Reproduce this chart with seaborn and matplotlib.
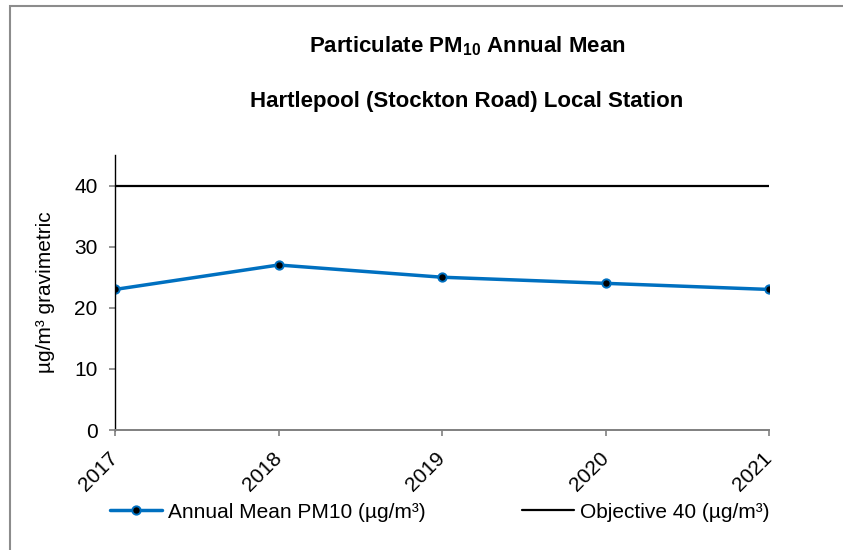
import matplotlib
matplotlib.use("Agg")
import matplotlib.pyplot as plt
import seaborn as sns
import pandas as pd
from matplotlib.patches import Rectangle
from matplotlib.lines import Line2D

years = ["2017", "2018", "2019", "2020", "2021"]
annual_mean = [23, 27, 25, 24, 23]
objective = [40, 40, 40, 40, 40]
y_ticks = [0, 10, 20, 30, 40]
series_labels = ["Annual Mean PM10 (µg/m³)", "Objective 40 (µg/m³)"]

sns.set_theme(style="white")
plt.rcParams["font.family"] = ["Liberation Sans", "DejaVu Sans"]
plt.rcParams["mathtext.fontset"] = "custom"
plt.rcParams["mathtext.rm"] = "Liberation Sans"
plt.rcParams["mathtext.bf"] = "Liberation Sans:bold"
for key in ["text.color", "axes.labelcolor", "xtick.labelcolor", "ytick.labelcolor"]:
    plt.rcParams[key] = "black"

df = pd.DataFrame({"Year": years, "Annual Mean": annual_mean, "Objective": objective})
df["x"] = range(len(years))

W, H = 843, 550
fig = plt.figure(figsize=(W / 100, H / 100), dpi=100)
ax = fig.add_axes([115 / W, 1 - 430 / H, (769 - 115) / W, (430 - 155) / H])

blue = "#0070C0"
line_kw = dict(color=blue, linewidth=2.5, marker="o", markersize=6,
               markerfacecolor="black", markeredgecolor=blue, markeredgewidth=1.4)
sns.lineplot(data=df, x="x", y="Objective", ax=ax, color="black", linewidth=1.6)
sns.lineplot(data=df, x="x", y="Annual Mean", ax=ax, **line_kw)

ax.set_xlim(0, len(years) - 1)
ax.set_ylim(0, 45)
ax.set_yticks(y_ticks)
ax.set_yticklabels([str(v) for v in y_ticks], fontsize=15)
ax.set_xticks(df["x"])
ax.set_xticklabels(years, rotation=45, ha="right", va="center",
                   rotation_mode="anchor", fontsize=15)
ax.set_xlabel("")
ax.set_ylabel("µg/m³ gravimetric", fontsize=15, labelpad=14)

for side in ["top", "right"]:
    ax.spines[side].set_visible(False)
ax.spines["left"].set_color("black")
ax.spines["left"].set_linewidth(1)
ax.spines["bottom"].set_color("#808080")
ax.spines["bottom"].set_linewidth(1.4)
ax.tick_params(axis="both", which="both", length=4.5, width=1.2, color="#808080",
               labelcolor="black", direction="out", bottom=True, left=True)
ax.tick_params(axis="y", pad=8)
ax.tick_params(axis="x", pad=14)

title_x = 467 / W
fig.text(title_x, 1 - 52 / H, r"Particulate PM$_{\mathbf{10}}$ Annual Mean", ha="center",
         va="baseline", fontsize=16, fontweight="bold")
fig.text(title_x, 1 - 107 / H, "Hartlepool (Stockton Road) Local Station", ha="center",
         va="baseline", fontsize=16, fontweight="bold")

handles = [Line2D([], [], **line_kw), Line2D([], [], color="black", linewidth=1.6)]
fig.legend(handles, series_labels, loc="center left",
           bbox_to_anchor=(110 / W, 1 - 512 / H), ncol=2, frameon=False,
           fontsize=15, handlelength=2.5, handletextpad=0.3, columnspacing=4.6,
           borderpad=0, borderaxespad=0)

fig.patches.append(Rectangle((10 / W, -0.1), 1.2, 1 - 6 / H + 0.1,
                             transform=fig.transFigure, fill=False,
                             edgecolor="#8c8c8c", linewidth=1.5))

fig.savefig("out.png", dpi=100)
